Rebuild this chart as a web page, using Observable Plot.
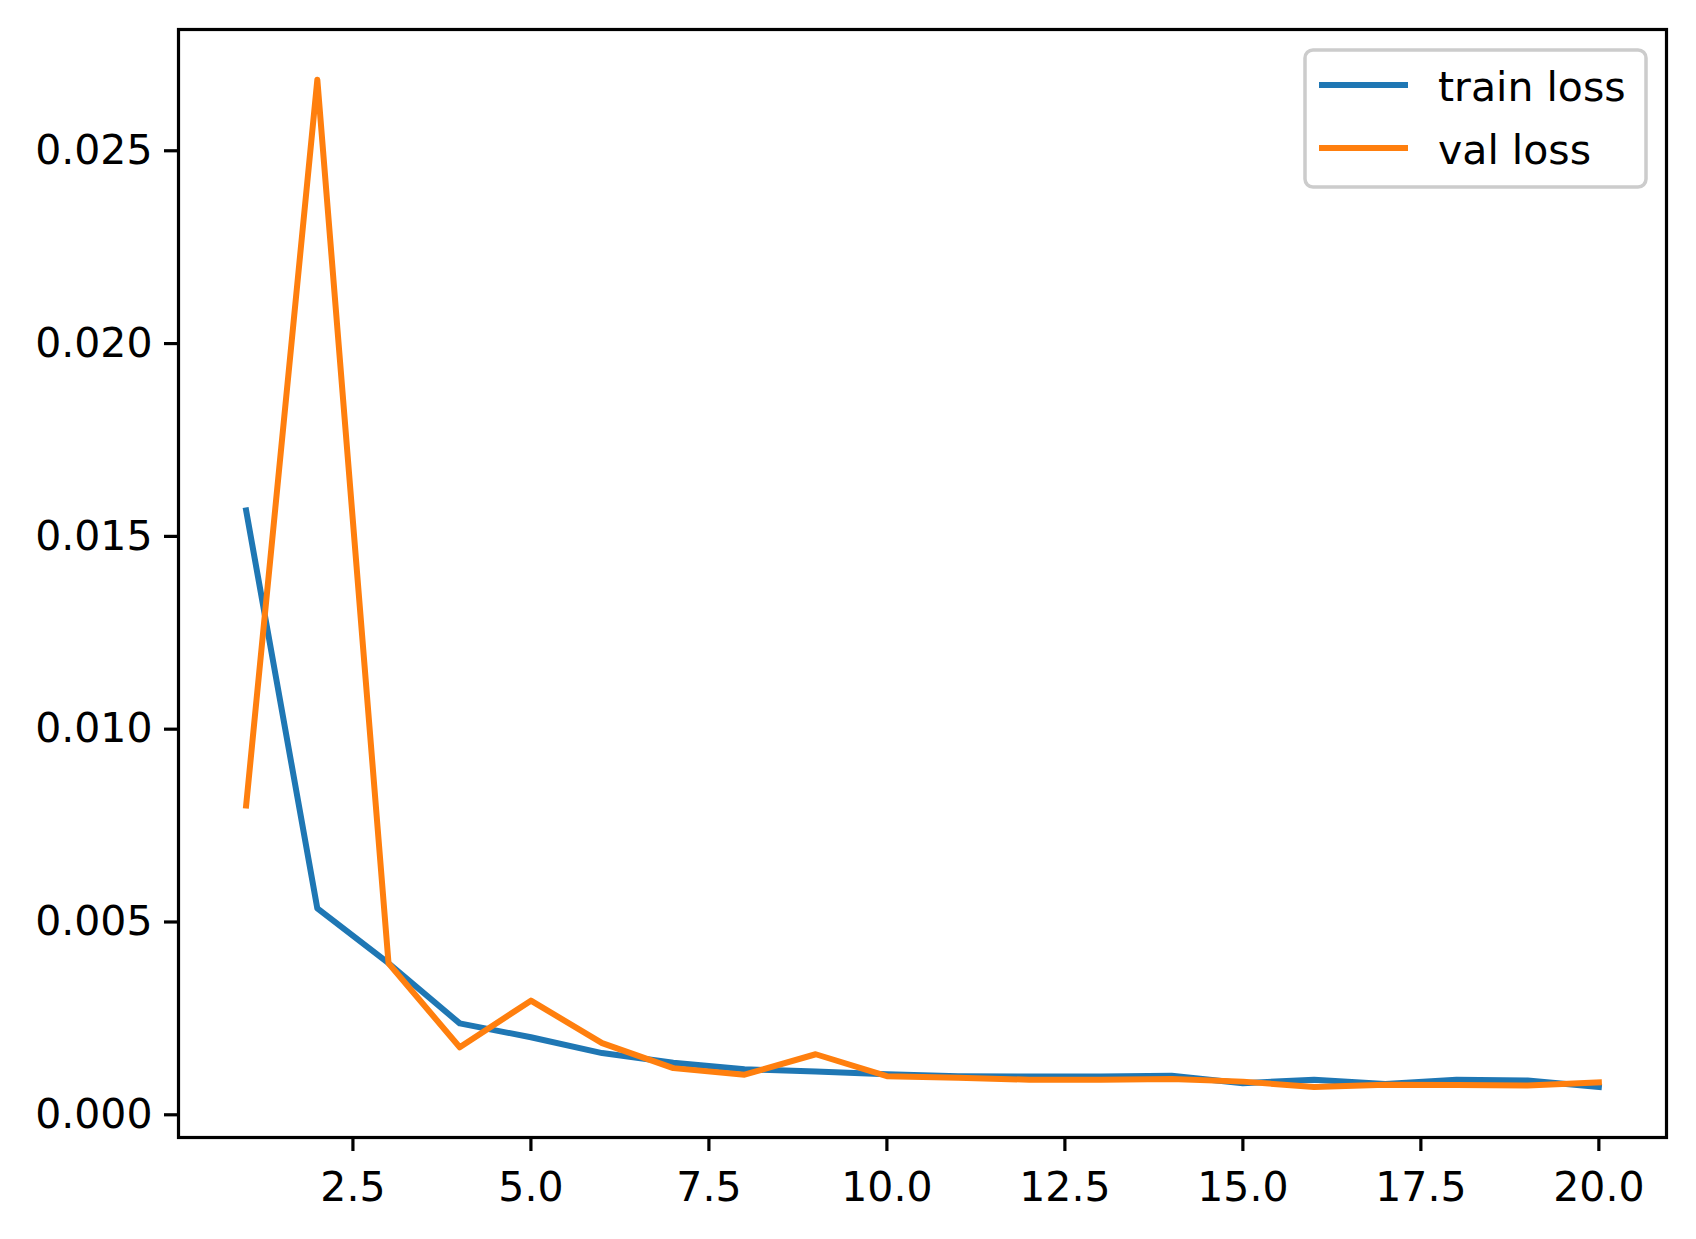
<!DOCTYPE html>
<html>
<head>
<meta charset="utf-8">
<script src="https://cdn.jsdelivr.net/npm/d3@7"></script>
<script src="https://cdn.jsdelivr.net/npm/@observablehq/plot@0.6"></script>
<style>
  html, body { margin: 0; padding: 0; background: white; }
  #chart { width: 1696px; height: 1239px; }
</style>
</head>
<body>
<div id="chart"></div>
<script>
const epochs = [1, 2, 3, 4, 5, 6, 7, 8, 9, 10, 11, 12, 13, 14, 15, 16, 17, 18, 19, 20];
const trainLoss = [0.01567, 0.00535, 0.00393, 0.00237, 0.00201, 0.0016, 0.00135, 0.00118, 0.00112, 0.00105,
                   0.00100, 0.00099, 0.00099, 0.00101, 0.00082, 0.00091, 0.00080, 0.00091, 0.00089, 0.00072];
const valLoss = [0.00802, 0.02684, 0.00393, 0.00175, 0.00296, 0.00186, 0.00121, 0.00104, 0.00157, 0.00100,
                 0.00096, 0.00091, 0.00091, 0.00093, 0.00086, 0.00072, 0.00078, 0.00077, 0.00076, 0.00084];
const seriesNames = ["train loss", "val loss"];
const seriesColors = ["#1f77b4", "#ff7f0e"];
const xTicks = [2.5, 5.0, 7.5, 10.0, 12.5, 15.0, 17.5, 20.0];
const yTicks = [0.000, 0.005, 0.010, 0.015, 0.020, 0.025];

const rows = [];
[trainLoss, valLoss].forEach((vals, s) => {
  vals.forEach((v, i) => rows.push({epoch: epochs[i], loss: v, series: seriesNames[s]}));
});

const W = 1696, H = 1239;
const mL = 178, mR = 30, mT = 29, mB = 102;
const FS = 41;

const plot = Plot.plot({
  width: W,
  height: H,
  marginLeft: mL,
  marginRight: mR,
  marginTop: mT,
  marginBottom: mB,
  style: {fontFamily: "DejaVu Sans", fontSize: FS + "px", background: "white", color: "black"},
  x: {domain: [0.05, 20.95]},
  y: {domain: [-0.000589, 0.028145]},
  color: {domain: seriesNames, range: seriesColors},
  marks: [
    Plot.axisX({ticks: xTicks, tickFormat: d3.format(".1f"), tickSize: 14, tickPadding: 20,
                strokeWidth: 3.2, fontSize: FS, label: null}),
    Plot.axisY({ticks: yTicks, tickFormat: d3.format(".3f"), tickSize: 14, tickPadding: 12,
                strokeWidth: 3.2, fontSize: FS, label: null}),
    Plot.line(rows, {x: "epoch", y: "loss", z: "series", stroke: "series",
                     strokeWidth: 6, strokeLinejoin: "round", strokeLinecap: "square"}),
    Plot.frame({stroke: "black", strokeWidth: 3.2})
  ]
});

document.getElementById("chart").appendChild(plot);

// Legend (matplotlib style, upper right)
const svg = d3.select(plot);
const lg = svg.append("g").attr("class", "legend").attr("text-anchor", "start");
const lx = 1305, ly = 50, lw = 341, lh = 137;
lg.append("rect").attr("x", lx).attr("y", ly).attr("width", lw).attr("height", lh)
  .attr("rx", 8).attr("ry", 8)
  .attr("fill", "white").attr("fill-opacity", 0.8)
  .attr("stroke", "#cccccc").attr("stroke-width", 3.5);
seriesNames.forEach((name, i) => {
  const cy = 85 + i * 63;
  lg.append("line").attr("x1", 1319).attr("x2", 1408).attr("y1", cy).attr("y2", cy)
    .attr("stroke", seriesColors[i]).attr("stroke-width", 6).attr("stroke-linecap", "butt");
  lg.append("text").attr("x", 1438).attr("y", cy).attr("dy", "0.38em")
    .attr("text-anchor", "start")
    .attr("font-family", "DejaVu Sans").attr("font-size", FS).attr("fill", "black")
    .text(name);
});
</script>
</body>
</html>
